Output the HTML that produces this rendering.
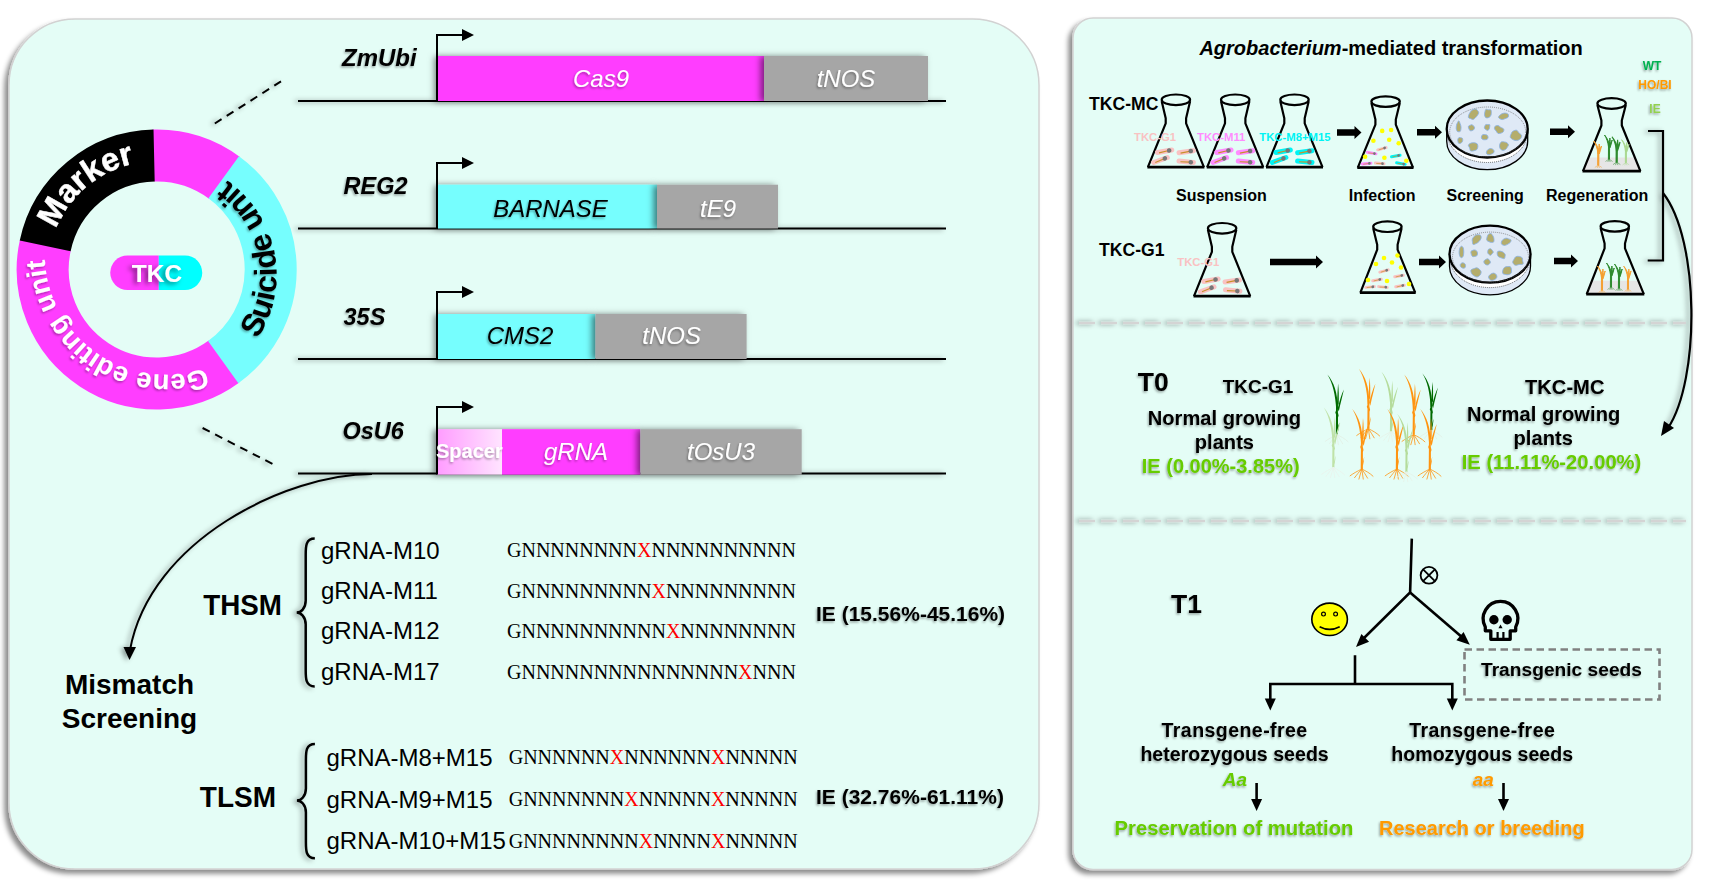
<!DOCTYPE html>
<html><head><meta charset="utf-8"><style>
html,body{margin:0;padding:0;background:#fff;}
body{width:1711px;height:889px;overflow:hidden;position:relative;font-family:'Liberation Sans', sans-serif;}
svg{position:absolute;left:0;top:0;}
text{font-family:'Liberation Sans', sans-serif;}
</style></head><body>
<svg width="1711" height="889" viewBox="0 0 1711 889">
<defs>
<filter id="psh" x="-5%" y="-5%" width="110%" height="110%"><feDropShadow dx="-4" dy="4" stdDeviation="2.5" flood-color="#000" flood-opacity="0.45"/></filter>
<filter id="ts" x="-20%" y="-30%" width="140%" height="160%"><feDropShadow dx="-1" dy="1.5" stdDeviation="1" flood-color="#000" flood-opacity="0.35"/></filter>
<filter id="bs" filterUnits="userSpaceOnUse" x="0" y="0" width="1711" height="889"><feDropShadow dx="-3" dy="1" stdDeviation="2.5" flood-color="#000" flood-opacity="0.4"/></filter>
<filter id="bxs" x="-15%" y="-30%" width="130%" height="160%"><feDropShadow dx="-3.5" dy="0.5" stdDeviation="3.2" flood-color="#000" flood-opacity="0.5"/></filter>
<filter id="lns" filterUnits="userSpaceOnUse" x="0" y="0" width="1711" height="889"><feDropShadow dx="-3" dy="0.5" stdDeviation="2.5" flood-color="#000" flood-opacity="0.4"/></filter>
<filter id="dsh" filterUnits="userSpaceOnUse" x="0" y="0" width="1711" height="889"><feDropShadow dx="-2.5" dy="0" stdDeviation="2.5" flood-color="#000" flood-opacity="0.5"/></filter>
<filter id="tks" x="-30%" y="-40%" width="160%" height="180%"><feDropShadow dx="-3" dy="2" stdDeviation="2.5" flood-color="#000" flood-opacity="0.55"/></filter>
<linearGradient id="spg" x1="0" x2="1" y1="0" y2="0"><stop offset="0" stop-color="#ff9cff"/><stop offset="1" stop-color="#ffe4ff"/></linearGradient>
</defs>

<rect x="9" y="19" width="1030" height="850" rx="66" ry="66" fill="#e4fdf6" stroke="#d2d2d2" stroke-width="1.5" filter="url(#psh)"/>
<rect x="1073" y="18" width="619" height="851.5" rx="20" ry="20" fill="#e4fdf6" stroke="#d2d2d2" stroke-width="1.5" filter="url(#psh)"/>
<path d="M224.03,361.49 A114,114 0 0 1 45.40,244.83" fill="none" stroke="#ff3dff" stroke-width="52"/>
<path d="M153.12,155.56 A114,114 0 0 1 224.51,177.86" fill="none" stroke="#ff3dff" stroke-width="52"/>
<path d="M45.19,245.80 A114,114 0 0 1 154.11,155.53" fill="none" stroke="#000" stroke-width="52"/>
<path d="M223.71,177.27 A114,114 0 0 1 223.22,362.08" fill="none" stroke="#76fefe" stroke-width="52"/>
<defs>
<path id="pMarker" d="M73.20,339.56 A109,109 0 0 1 240.20,199.44"/>
<path id="pSuicide" d="M183.95,387.76 A115,115 0 0 0 140.85,161.84"/>
<path id="pGene" d="M265.75,321.25 A120.8,120.8 0 0 1 65.45,186.15"/>
</defs>
<text font-size="32.5" font-weight="bold" fill="#fff" stroke="#fff" stroke-width="0.5" filter="url(#ts)"><textPath href="#pMarker" startOffset="50%" text-anchor="middle">Marker</textPath></text>
<text font-size="31.5" font-weight="bold" fill="#000" filter="url(#ts)"><textPath href="#pSuicide" startOffset="50%" text-anchor="middle">Suicide unit</textPath></text>
<text font-size="27.5" font-weight="bold" fill="#fff" filter="url(#ts)"><textPath href="#pGene" startOffset="50%" text-anchor="middle">Gene editing unit</textPath></text>
<g><path d="M127.5,255.5 H158.8 V290 H127.5 A17.25,17.25 0 0 1 127.5,255.5 Z" fill="#ff3dff"/><path d="M158.8,255.5 H185 A17.25,17.25 0 0 1 185,290 H158.8 Z" fill="#00ffff"/></g>
<text x="157" y="282" font-size="24.5" font-weight="bold" font-style="normal" fill="#fff" text-anchor="middle" filter="url(#tks)" >TKC</text>
<g filter="url(#bs)" stroke="#000" stroke-width="2" stroke-dasharray="8 6.1">
<line x1="214.8" y1="123.5" x2="281" y2="81.4"/>
<line x1="202.6" y1="428" x2="272.7" y2="464"/>
</g>
<line x1="298" y1="101" x2="946" y2="101" stroke="#000" stroke-width="2" filter="url(#lns)"/>
<rect x="438" y="56" width="326" height="45" fill="#ff3dff" filter="url(#bxs)"/>
<rect x="764" y="56" width="164" height="45" fill="#a6a6a6" filter="url(#bxs)"/>
<path d="M437,101 V35 H463" fill="none" stroke="#000" stroke-width="2"/>
<path d="M462,29 L474,35 L462,41 Z" fill="#000"/>
<text x="342" y="65.8" font-size="24" font-weight="bold" font-style="italic" fill="#000" text-anchor="start" filter="url(#ts)" >ZmUbi</text>
<text x="601" y="86.8" font-size="24" font-weight="normal" font-style="italic" fill="#fff" text-anchor="middle" filter="url(#ts)" >Cas9</text>
<text x="846" y="86.5" font-size="24" font-weight="normal" font-style="italic" fill="#fff" text-anchor="middle" filter="url(#ts)" >tNOS</text>
<line x1="298" y1="228.5" x2="946" y2="228.5" stroke="#000" stroke-width="2" filter="url(#lns)"/>
<rect x="438" y="184.7" width="219" height="43.80000000000001" fill="#76fefe" filter="url(#bxs)"/>
<rect x="657" y="184.7" width="121" height="43.80000000000001" fill="#a6a6a6" filter="url(#bxs)"/>
<path d="M437,228.5 V163 H463" fill="none" stroke="#000" stroke-width="2"/>
<path d="M462,157 L474,163 L462,169 Z" fill="#000"/>
<text x="343.5" y="193.7" font-size="23.5" font-weight="bold" font-style="italic" fill="#000" text-anchor="start" filter="url(#ts)" >REG2</text>
<text x="550.5" y="216.6" font-size="24" font-weight="normal" font-style="italic" fill="#000" text-anchor="middle" filter="url(#ts)" >BARNASE</text>
<text x="718" y="216.6" font-size="24" font-weight="normal" font-style="italic" fill="#fff" text-anchor="middle" filter="url(#ts)" >tE9</text>
<line x1="298" y1="359" x2="946" y2="359" stroke="#000" stroke-width="2" filter="url(#lns)"/>
<rect x="438" y="314" width="157.5" height="45" fill="#76fefe" filter="url(#bxs)"/>
<rect x="595.5" y="314" width="151.10000000000002" height="45" fill="#a6a6a6" filter="url(#bxs)"/>
<path d="M437,359 V292 H463" fill="none" stroke="#000" stroke-width="2"/>
<path d="M462,286 L474,292 L462,298 Z" fill="#000"/>
<text x="343.5" y="324.7" font-size="23.5" font-weight="bold" font-style="italic" fill="#000" text-anchor="start" filter="url(#ts)" >35S</text>
<text x="520" y="344" font-size="24" font-weight="normal" font-style="italic" fill="#000" text-anchor="middle" filter="url(#ts)" >CMS2</text>
<text x="671.6" y="344" font-size="24" font-weight="normal" font-style="italic" fill="#fff" text-anchor="middle" filter="url(#ts)" >tNOS</text>
<line x1="298" y1="473.4" x2="946" y2="473.4" stroke="#000" stroke-width="2" filter="url(#lns)"/>
<g filter="url(#bxs)">
<rect x="437" y="429.2" width="65" height="45.39999999999999" fill="url(#spg)"/>
<rect x="502" y="429.2" width="138.39999999999998" height="45.39999999999999" fill="#ff3dff"/>
</g>
<rect x="640.4" y="429.2" width="161.30000000000007" height="45.39999999999999" fill="#a6a6a6" filter="url(#bxs)"/>
<path d="M437,474.59999999999997 V407 H463" fill="none" stroke="#000" stroke-width="2"/>
<path d="M462,401 L474,407 L462,413 Z" fill="#000"/>
<text x="342.5" y="439" font-size="23.5" font-weight="bold" font-style="italic" fill="#000" text-anchor="start" filter="url(#ts)" >OsU6</text>
<text x="469.4" y="458" font-size="20" font-weight="bold" font-style="normal" fill="#fff" text-anchor="middle" filter="url(#ts)" >Spacer</text>
<text x="576" y="460" font-size="24" font-weight="normal" font-style="italic" fill="#fff" text-anchor="middle" filter="url(#ts)" >gRNA</text>
<text x="721" y="460" font-size="24" font-weight="normal" font-style="italic" fill="#fff" text-anchor="middle" filter="url(#ts)" >tOsU3</text>
<g filter="url(#bs)">
<path d="M372,474 C287,474 150,540 130,650" fill="none" stroke="#000" stroke-width="2"/>
<path d="M123.5,647 L129.5,660 L136,647 Z" fill="#000"/>
</g>
<text x="129.5" y="693.9" font-size="28" font-weight="bold" font-style="normal" fill="#000" text-anchor="middle" >Mismatch</text>
<text x="129.5" y="727.8" font-size="28" font-weight="bold" font-style="normal" fill="#000" text-anchor="middle" >Screening</text>
<g transform="translate(203.3,614.7) scale(0.958,1)"><text x="0" y="0" font-size="29" font-weight="bold" font-style="normal" fill="#000" text-anchor="start" >THSM</text></g>
<g transform="translate(199.8,806.5) scale(0.965,1)"><text x="0" y="0" font-size="29" font-weight="bold" font-style="normal" fill="#000" text-anchor="start" >TLSM</text></g>
<path d="M314.7,538.6 C305.7,538.6 305.7,546.6 305.7,554.6 L305.7,600.6 C305.7,608.6 300.7,612.6 296.7,612.6 C300.7,612.6 305.7,616.6 305.7,624.6 L305.7,670.4 C305.7,678.4 305.7,686.4 314.7,686.4" fill="none" stroke="#000" stroke-width="2.5" filter="url(#bs)"/>
<path d="M314.9,743.9 C305.9,743.9 305.9,751.9 305.9,759.9 L305.9,788.5 C305.9,796.5 300.9,800.5 296.9,800.5 C300.9,800.5 305.9,804.5 305.9,812.5 L305.9,842.2 C305.9,850.2 305.9,858.2 314.9,858.2" fill="none" stroke="#000" stroke-width="2.5" filter="url(#bs)"/>
<text x="321" y="558.7" font-size="24" font-weight="normal" font-style="normal" fill="#000" text-anchor="start" >gRNA-M10</text>
<text x="321" y="599.2" font-size="24" font-weight="normal" font-style="normal" fill="#000" text-anchor="start" >gRNA-M11</text>
<text x="321" y="639.4" font-size="24" font-weight="normal" font-style="normal" fill="#000" text-anchor="start" >gRNA-M12</text>
<text x="321" y="679.7" font-size="24" font-weight="normal" font-style="normal" fill="#000" text-anchor="start" >gRNA-M17</text>
<text x="326.5" y="765.8" font-size="24" font-weight="normal" font-style="normal" fill="#000" text-anchor="start" >gRNA-M8+M15</text>
<text x="326.5" y="808" font-size="24" font-weight="normal" font-style="normal" fill="#000" text-anchor="start" >gRNA-M9+M15</text>
<text x="326.5" y="848.8" font-size="24" font-weight="normal" font-style="normal" fill="#000" text-anchor="start" >gRNA-M10+M15</text>
<text x="507" y="556.6" font-size="20" fill="#000" style="font-family:'Liberation Serif', serif">GNNNNNNNN<tspan fill="#ff0000">X</tspan>NNNNNNNNNN</text>
<text x="507" y="597.5" font-size="20" fill="#000" style="font-family:'Liberation Serif', serif">GNNNNNNNNN<tspan fill="#ff0000">X</tspan>NNNNNNNNN</text>
<text x="507" y="638" font-size="20" fill="#000" style="font-family:'Liberation Serif', serif">GNNNNNNNNNN<tspan fill="#ff0000">X</tspan>NNNNNNNN</text>
<text x="507" y="678.8" font-size="20" fill="#000" style="font-family:'Liberation Serif', serif">GNNNNNNNNNNNNNNN<tspan fill="#ff0000">X</tspan>NNN</text>
<text x="508.7" y="764.3" font-size="20" fill="#000" style="font-family:'Liberation Serif', serif">GNNNNNN<tspan fill="#ff0000">X</tspan>NNNNNN<tspan fill="#ff0000">X</tspan>NNNNN</text>
<text x="508.7" y="806.4" font-size="20" fill="#000" style="font-family:'Liberation Serif', serif">GNNNNNNN<tspan fill="#ff0000">X</tspan>NNNNN<tspan fill="#ff0000">X</tspan>NNNNN</text>
<text x="508.7" y="847.5" font-size="20" fill="#000" style="font-family:'Liberation Serif', serif">GNNNNNNNN<tspan fill="#ff0000">X</tspan>NNNN<tspan fill="#ff0000">X</tspan>NNNNN</text>
<text x="816" y="620.9" font-size="21" font-weight="bold" font-style="normal" fill="#000" text-anchor="start" filter="url(#ts)" >IE (15.56%-45.16%)</text>
<text x="816" y="804.4" font-size="21" font-weight="bold" font-style="normal" fill="#000" text-anchor="start" filter="url(#ts)" >IE (32.76%-61.11%)</text>
<defs>
<g id="plant">
<path d="M-1.1,0 L-0.9,-20 L-1.6,-22 L-0.9,-24 L-0.8,-33 L1.1,-33 L1.0,-22 L1.7,-19 L1.1,-17 L1.1,0 Z" stroke="none"/>
<path d="M-0.6,-24 C-1.5,-40 -4,-51 -9.5,-60 C-2.8,-52 0.6,-42 1,-26 Z" stroke="none"/>
<path d="M0.1,-30 C0.4,-38 0.8,-45 1.2,-51 C1.9,-45 2.0,-38 1.8,-30 Z" stroke="none"/>
<path d="M0.8,-26 C2.5,-33 4.5,-40 7,-45 C5.6,-39 3.8,-32 1.9,-23 Z" stroke="none"/>
<path d="M0.6,-5 C1.2,-8 1.8,-10 2.4,-12 C2.2,-9 1.8,-6 1.1,-3 Z" stroke="none"/>
<path d="M0,0 C-4,2 -8,4 -12,7 M0,0 C-3,3 -5,6 -7.5,9 M0,0 L-3,10.5 M0,0 L1.5,10.5 M0,0 C2,3 4,6 6,9.5 M0,0 C4,2 8,4 11.5,7.5" fill="none" stroke-width="0.8"/>
</g>
<g id="sprout">
<path d="M-0.6,0 L-0.5,-15 L0.6,-15 L0.5,0 Z"/>
<path d="M-0.3,-11 C-1,-17 -2.5,-21 -4.5,-24 C-1.8,-21 0.3,-17 0.6,-12 Z"/>
<path d="M0.2,-13 C0.4,-16 0.6,-19 0.9,-21 C1.3,-19 1.2,-16 0.9,-13 Z"/>
<path d="M0.2,-12 C1.2,-15 2,-17 3.2,-19 C2.6,-16 1.8,-13.5 0.9,-11 Z"/>
<path d="M0,0 L-3.5,2.5 M0,0 L-1.2,3 M0,0 L1.2,3 M0,0 L3.5,2.5" fill="none" stroke-width="0.5"/>
</g>
</defs>
<text x="1199.4" y="55.2" font-size="20" font-weight="bold" font-style="normal" fill="#000" text-anchor="start" ><tspan font-style="italic">Agrobacterium</tspan>-mediated transformation</text>
<text x="1652" y="69.6" font-size="12" font-weight="bold" font-style="normal" fill="#00b050" text-anchor="middle" filter="url(#ts)" >WT</text>
<text x="1655" y="88.7" font-size="12" font-weight="bold" font-style="normal" fill="#ff9900" text-anchor="middle" filter="url(#ts)" >HO/BI</text>
<text x="1655" y="112.6" font-size="12" font-weight="bold" font-style="normal" fill="#92d050" text-anchor="middle" filter="url(#ts)" >IE</text>
<text x="1089" y="109.6" font-size="17.6" font-weight="bold" font-style="normal" fill="#000" text-anchor="start" >TKC-MC</text>
<text x="1099" y="255.6" font-size="17.6" font-weight="bold" font-style="normal" fill="#000" text-anchor="start" >TKC-G1</text>
<g fill="none" stroke="#000" stroke-linejoin="round">
<path d="M1161.7,101.3 L1165.7,118.3 L1165.7,123.3 L1147.9,167.1" stroke-width="2.2"/>
<path d="M1190.1000000000001,101.3 L1186.1000000000001,118.3 L1186.1000000000001,123.3 L1203.9,167.1" stroke-width="2.2"/>
<line x1="1147.4" y1="167.1" x2="1204.4" y2="167.1" stroke-width="2.8"/>
<ellipse cx="1175.9" cy="99.8" rx="14.2" ry="5.3" stroke-width="2.2"/>
</g>
<g transform="translate(1164.6000000000001,151.3) rotate(-10)">
<line x1="-7.25" y1="0" x2="7.25" y2="0" stroke="#f9c2c2" stroke-width="5.0" stroke-linecap="round"/>
<line x1="-5.75" y1="0.6" x2="3.25" y2="0.1" stroke="#c8902a" stroke-width="1.1"/>
<circle cx="4.65" cy="0" r="2.3" fill="#777"/>
</g>
<g transform="translate(1186.2,151.7) rotate(-8)">
<line x1="-7.25" y1="0" x2="7.25" y2="0" stroke="#f9c2c2" stroke-width="5.0" stroke-linecap="round"/>
<line x1="-5.75" y1="0.6" x2="3.25" y2="0.1" stroke="#c8902a" stroke-width="1.1"/>
<circle cx="4.65" cy="0" r="2.3" fill="#777"/>
</g>
<g transform="translate(1160.5,160) rotate(-20)">
<line x1="-7.25" y1="0" x2="7.25" y2="0" stroke="#f9c2c2" stroke-width="5.0" stroke-linecap="round"/>
<line x1="-5.75" y1="0.6" x2="3.25" y2="0.1" stroke="#c8902a" stroke-width="1.1"/>
<circle cx="4.65" cy="0" r="2.3" fill="#777"/>
</g>
<g transform="translate(1186.2,161.7) rotate(6)">
<line x1="-7.25" y1="0" x2="7.25" y2="0" stroke="#f9c2c2" stroke-width="5.0" stroke-linecap="round"/>
<line x1="-5.75" y1="0.6" x2="3.25" y2="0.1" stroke="#c8902a" stroke-width="1.1"/>
<circle cx="4.65" cy="0" r="2.3" fill="#777"/>
</g>
<text x="1134" y="140.5" font-size="11.3" font-weight="bold" font-style="normal" fill="#f9c2c2" text-anchor="start" >TKC-G1</text>
<g fill="none" stroke="#000" stroke-linejoin="round">
<path d="M1221.0,101.3 L1225.0,118.3 L1225.0,123.3 L1207.2,167.1" stroke-width="2.2"/>
<path d="M1249.4,101.3 L1245.4,118.3 L1245.4,123.3 L1263.2,167.1" stroke-width="2.2"/>
<line x1="1206.7" y1="167.1" x2="1263.7" y2="167.1" stroke-width="2.8"/>
<ellipse cx="1235.2" cy="99.8" rx="14.2" ry="5.3" stroke-width="2.2"/>
</g>
<g transform="translate(1223.9,151.3) rotate(-10)">
<line x1="-7.25" y1="0" x2="7.25" y2="0" stroke="#ff8cff" stroke-width="5.0" stroke-linecap="round"/>
<line x1="-5.75" y1="0.6" x2="3.25" y2="0.1" stroke="#c8902a" stroke-width="1.1"/>
<circle cx="4.65" cy="0" r="2.3" fill="#777"/>
</g>
<g transform="translate(1245.5,151.7) rotate(-8)">
<line x1="-7.25" y1="0" x2="7.25" y2="0" stroke="#ff8cff" stroke-width="5.0" stroke-linecap="round"/>
<line x1="-5.75" y1="0.6" x2="3.25" y2="0.1" stroke="#c8902a" stroke-width="1.1"/>
<circle cx="4.65" cy="0" r="2.3" fill="#777"/>
</g>
<g transform="translate(1219.8,160) rotate(-20)">
<line x1="-7.25" y1="0" x2="7.25" y2="0" stroke="#ff8cff" stroke-width="5.0" stroke-linecap="round"/>
<line x1="-5.75" y1="0.6" x2="3.25" y2="0.1" stroke="#c8902a" stroke-width="1.1"/>
<circle cx="4.65" cy="0" r="2.3" fill="#777"/>
</g>
<g transform="translate(1245.5,161.7) rotate(6)">
<line x1="-7.25" y1="0" x2="7.25" y2="0" stroke="#ff8cff" stroke-width="5.0" stroke-linecap="round"/>
<line x1="-5.75" y1="0.6" x2="3.25" y2="0.1" stroke="#c8902a" stroke-width="1.1"/>
<circle cx="4.65" cy="0" r="2.3" fill="#777"/>
</g>
<text x="1197" y="140.5" font-size="11.3" font-weight="bold" font-style="normal" fill="#ff8cff" text-anchor="start" >TKC-M11</text>
<g fill="none" stroke="#000" stroke-linejoin="round">
<path d="M1280.3,101.3 L1284.3,118.3 L1284.3,123.3 L1266.5,167.1" stroke-width="2.2"/>
<path d="M1308.7,101.3 L1304.7,118.3 L1304.7,123.3 L1322.5,167.1" stroke-width="2.2"/>
<line x1="1266.0" y1="167.1" x2="1323.0" y2="167.1" stroke-width="2.8"/>
<ellipse cx="1294.5" cy="99.8" rx="14.2" ry="5.3" stroke-width="2.2"/>
</g>
<g transform="translate(1283.2,151.3) rotate(-10)">
<line x1="-7.25" y1="0" x2="7.25" y2="0" stroke="#00f4f4" stroke-width="5.0" stroke-linecap="round"/>
<line x1="-5.75" y1="0.6" x2="3.25" y2="0.1" stroke="#c8902a" stroke-width="1.1"/>
<circle cx="4.65" cy="0" r="2.3" fill="#777"/>
</g>
<g transform="translate(1304.8,151.7) rotate(-8)">
<line x1="-7.25" y1="0" x2="7.25" y2="0" stroke="#00f4f4" stroke-width="5.0" stroke-linecap="round"/>
<line x1="-5.75" y1="0.6" x2="3.25" y2="0.1" stroke="#c8902a" stroke-width="1.1"/>
<circle cx="4.65" cy="0" r="2.3" fill="#777"/>
</g>
<g transform="translate(1279.1,160) rotate(-20)">
<line x1="-7.25" y1="0" x2="7.25" y2="0" stroke="#00f4f4" stroke-width="5.0" stroke-linecap="round"/>
<line x1="-5.75" y1="0.6" x2="3.25" y2="0.1" stroke="#c8902a" stroke-width="1.1"/>
<circle cx="4.65" cy="0" r="2.3" fill="#777"/>
</g>
<g transform="translate(1304.8,161.7) rotate(6)">
<line x1="-7.25" y1="0" x2="7.25" y2="0" stroke="#00f4f4" stroke-width="5.0" stroke-linecap="round"/>
<line x1="-5.75" y1="0.6" x2="3.25" y2="0.1" stroke="#c8902a" stroke-width="1.1"/>
<circle cx="4.65" cy="0" r="2.3" fill="#777"/>
</g>
<text x="1259.3" y="140.5" font-size="11.3" font-weight="bold" font-style="normal" fill="#00f4f4" text-anchor="start" >TKC-M8+M15</text>
<path d="M1337,129.35 H1354.5 V126.1 L1361.5,132.6 L1354.5,139.1 V135.85 H1337 Z" fill="#000"/>
<g fill="none" stroke="#000" stroke-linejoin="round">
<path d="M1371.3999999999999,103.1 L1375.3999999999999,119.6 L1375.3999999999999,124.6 L1357.8,167.7" stroke-width="2.2"/>
<path d="M1399.8,103.1 L1395.8,119.6 L1395.8,124.6 L1413.0,167.7" stroke-width="2.2"/>
<line x1="1357.3" y1="167.7" x2="1413.5" y2="167.7" stroke-width="2.8"/>
<ellipse cx="1385.6" cy="101.6" rx="14.2" ry="5.3" stroke-width="2.2"/>
</g>
<circle cx="1382.2" cy="130.9" r="2.3" fill="#ffff00"/>
<circle cx="1391.1" cy="130" r="2.3" fill="#ffff00"/>
<circle cx="1373.4" cy="140.7" r="2.3" fill="#ffff00"/>
<circle cx="1389.2" cy="139.7" r="2.3" fill="#ffff00"/>
<circle cx="1398.7" cy="143.3" r="2.3" fill="#ffff00"/>
<circle cx="1365.1" cy="156.8" r="2.3" fill="#ffff00"/>
<circle cx="1384.4" cy="157.8" r="2.3" fill="#ffff00"/>
<circle cx="1406.3" cy="160.7" r="2.3" fill="#ffff00"/>
<g transform="translate(1381.9,148.7) rotate(-15)">
<line x1="-4.35" y1="0" x2="4.35" y2="0" stroke="#f9c2c2" stroke-width="3.0" stroke-linecap="round"/>
<line x1="-3.4499999999999997" y1="0.36" x2="1.9499999999999997" y2="0.06" stroke="#c8902a" stroke-width="0.66"/>
<circle cx="2.7899999999999996" cy="0" r="1.38" fill="#777"/>
</g>
<g transform="translate(1371.7,153.1) rotate(10)">
<line x1="-4.35" y1="0" x2="4.35" y2="0" stroke="#ff8cff" stroke-width="3.0" stroke-linecap="round"/>
<line x1="-3.4499999999999997" y1="0.36" x2="1.9499999999999997" y2="0.06" stroke="#c8902a" stroke-width="0.66"/>
<circle cx="2.7899999999999996" cy="0" r="1.38" fill="#777"/>
</g>
<g transform="translate(1395.8,156) rotate(-10)">
<line x1="-4.35" y1="0" x2="4.35" y2="0" stroke="#00f4f4" stroke-width="3.0" stroke-linecap="round"/>
<line x1="-3.4499999999999997" y1="0.36" x2="1.9499999999999997" y2="0.06" stroke="#c8902a" stroke-width="0.66"/>
<circle cx="2.7899999999999996" cy="0" r="1.38" fill="#777"/>
</g>
<g transform="translate(1366.6,163.6) rotate(-5)">
<line x1="-4.35" y1="0" x2="4.35" y2="0" stroke="#ff8cff" stroke-width="3.0" stroke-linecap="round"/>
<line x1="-3.4499999999999997" y1="0.36" x2="1.9499999999999997" y2="0.06" stroke="#c8902a" stroke-width="0.66"/>
<circle cx="2.7899999999999996" cy="0" r="1.38" fill="#777"/>
</g>
<g transform="translate(1379.7,163.4) rotate(5)">
<line x1="-4.35" y1="0" x2="4.35" y2="0" stroke="#f9c2c2" stroke-width="3.0" stroke-linecap="round"/>
<line x1="-3.4499999999999997" y1="0.36" x2="1.9499999999999997" y2="0.06" stroke="#c8902a" stroke-width="0.66"/>
<circle cx="2.7899999999999996" cy="0" r="1.38" fill="#777"/>
</g>
<g transform="translate(1400.9,163.6) rotate(10)">
<line x1="-4.35" y1="0" x2="4.35" y2="0" stroke="#00f4f4" stroke-width="3.0" stroke-linecap="round"/>
<line x1="-3.4499999999999997" y1="0.36" x2="1.9499999999999997" y2="0.06" stroke="#c8902a" stroke-width="0.66"/>
<circle cx="2.7899999999999996" cy="0" r="1.38" fill="#777"/>
</g>
<path d="M1417,129.05 H1435 V125.80000000000001 L1442,132.3 L1435,138.8 V135.55 H1417 Z" fill="#000"/>
<g>
<path d="M1446.7,129 L1446.7,141.2 A40.5,28.5 0 0 0 1527.7,141.2 L1527.7,129 Z" fill="#dfe9f6" stroke="#000" stroke-width="1.3"/>
<ellipse cx="1487.2" cy="134" rx="39.7" ry="28.5" fill="#fff" stroke="#444" stroke-width="0.8" stroke-dasharray="1 1"/>
<ellipse cx="1487.2" cy="129" rx="40.5" ry="28.5" fill="#dfe9f6" stroke="#000" stroke-width="2.3"/>
<ellipse cx="1487.7" cy="132" rx="38.0" ry="25.0" fill="none" stroke="#666" stroke-width="0.7" stroke-dasharray="1 1"/>
<path d="M1476.47,116.62 C1475.56,117.68 1474.25,119.05 1473.31,119.39 C1472.36,119.73 1471.58,118.98 1470.77,118.65 C1469.96,118.33 1468.67,118.29 1468.43,117.45 C1468.19,116.61 1468.69,114.87 1469.33,113.63 C1469.97,112.39 1471.18,110.78 1472.25,110.02 C1473.31,109.26 1474.81,108.97 1475.70,109.06 C1476.59,109.15 1477.07,109.91 1477.57,110.57 C1478.07,111.22 1478.90,112.00 1478.71,113.01 C1478.53,114.02 1477.37,115.56 1476.47,116.62 Z" fill="#b4ad6c" stroke="#8fb3e3" stroke-width="0.9"/>
<path d="M1491.30,113.40 C1491.21,114.45 1490.91,115.59 1490.40,116.30 C1489.90,117.01 1489.06,117.45 1488.29,117.68 C1487.52,117.91 1486.40,118.13 1485.77,117.66 C1485.14,117.20 1484.67,115.81 1484.52,114.88 C1484.37,113.95 1484.66,113.01 1484.88,112.09 C1485.11,111.16 1485.31,109.71 1485.86,109.33 C1486.41,108.94 1487.36,109.68 1488.20,109.79 C1489.04,109.89 1490.38,109.37 1490.89,109.98 C1491.41,110.58 1491.38,112.35 1491.30,113.40 Z" fill="#b4ad6c" stroke="#8fb3e3" stroke-width="0.9"/>
<path d="M1508.47,114.75 C1508.75,115.45 1508.59,116.68 1507.99,117.35 C1507.39,118.01 1505.84,118.36 1504.88,118.73 C1503.93,119.10 1503.08,119.55 1502.27,119.57 C1501.46,119.58 1500.65,119.25 1500.03,118.84 C1499.40,118.44 1498.47,117.81 1498.52,117.14 C1498.56,116.48 1499.53,115.50 1500.30,114.87 C1501.06,114.24 1502.10,113.64 1503.11,113.36 C1504.11,113.08 1505.45,112.96 1506.34,113.19 C1507.24,113.42 1508.20,114.06 1508.47,114.75 Z" fill="#b4ad6c" stroke="#8fb3e3" stroke-width="0.9"/>
<path d="M1461.02,126.90 C1461.09,128.16 1460.84,130.27 1460.46,131.08 C1460.08,131.89 1459.28,131.71 1458.75,131.76 C1458.23,131.82 1457.75,131.89 1457.33,131.40 C1456.90,130.91 1456.37,129.84 1456.23,128.81 C1456.09,127.78 1456.30,126.23 1456.50,125.23 C1456.70,124.23 1457.03,123.54 1457.42,122.81 C1457.81,122.07 1458.40,120.71 1458.84,120.83 C1459.28,120.95 1459.70,122.51 1460.07,123.52 C1460.43,124.53 1460.96,125.64 1461.02,126.90 Z" fill="#b4ad6c" stroke="#8fb3e3" stroke-width="0.9"/>
<path d="M1474.64,127.80 C1474.66,128.47 1474.01,129.38 1473.56,129.86 C1473.10,130.34 1472.50,130.52 1471.92,130.66 C1471.34,130.81 1470.58,131.02 1470.09,130.72 C1469.59,130.43 1469.27,129.62 1468.97,128.90 C1468.68,128.18 1468.11,127.04 1468.32,126.42 C1468.54,125.80 1469.63,125.49 1470.24,125.19 C1470.84,124.89 1471.43,124.54 1471.97,124.65 C1472.50,124.76 1473.00,125.32 1473.45,125.85 C1473.89,126.37 1474.62,127.13 1474.64,127.80 Z" fill="#b4ad6c" stroke="#8fb3e3" stroke-width="0.9"/>
<path d="M1489.65,127.00 C1489.57,127.67 1489.56,128.20 1489.26,128.78 C1488.95,129.36 1488.37,130.35 1487.79,130.48 C1487.21,130.61 1486.34,129.97 1485.77,129.57 C1485.19,129.17 1484.50,128.64 1484.35,128.07 C1484.20,127.50 1484.63,126.72 1484.87,126.12 C1485.11,125.53 1485.34,124.73 1485.79,124.48 C1486.25,124.23 1486.95,124.56 1487.61,124.61 C1488.27,124.67 1489.41,124.39 1489.75,124.79 C1490.09,125.19 1489.73,126.33 1489.65,127.00 Z" fill="#b4ad6c" stroke="#8fb3e3" stroke-width="0.9"/>
<path d="M1503.39,131.69 C1502.97,132.36 1502.04,132.75 1501.16,133.05 C1500.27,133.35 1498.94,133.83 1498.10,133.49 C1497.27,133.15 1496.76,131.78 1496.15,131.00 C1495.55,130.22 1494.66,129.60 1494.47,128.82 C1494.29,128.05 1494.46,126.91 1495.04,126.35 C1495.61,125.79 1497.00,125.32 1497.95,125.48 C1498.90,125.64 1499.76,126.73 1500.71,127.32 C1501.66,127.91 1503.22,128.30 1503.67,129.03 C1504.12,129.76 1503.81,131.02 1503.39,131.69 Z" fill="#b4ad6c" stroke="#8fb3e3" stroke-width="0.9"/>
<path d="M1521.64,135.50 C1521.84,136.48 1521.08,138.04 1520.24,138.88 C1519.41,139.73 1517.86,140.45 1516.63,140.57 C1515.40,140.69 1513.94,140.15 1512.88,139.58 C1511.83,139.02 1510.59,138.10 1510.29,137.18 C1509.99,136.26 1510.66,135.05 1511.08,134.07 C1511.50,133.09 1511.87,131.92 1512.80,131.29 C1513.73,130.65 1515.62,129.99 1516.66,130.27 C1517.70,130.55 1518.22,132.11 1519.05,132.99 C1519.88,133.86 1521.45,134.52 1521.64,135.50 Z" fill="#b4ad6c" stroke="#8fb3e3" stroke-width="0.9"/>
<path d="M1488.09,137.10 C1488.13,137.82 1487.68,138.89 1487.16,139.33 C1486.64,139.77 1485.65,139.70 1484.97,139.74 C1484.28,139.78 1483.65,139.83 1483.07,139.58 C1482.49,139.32 1481.72,138.79 1481.48,138.20 C1481.23,137.61 1481.36,136.66 1481.61,136.05 C1481.87,135.43 1482.45,134.75 1483.01,134.52 C1483.56,134.28 1484.28,134.55 1484.93,134.64 C1485.59,134.73 1486.43,134.63 1486.95,135.04 C1487.48,135.45 1488.06,136.38 1488.09,137.10 Z" fill="#b4ad6c" stroke="#8fb3e3" stroke-width="0.9"/>
<path d="M1462.69,140.40 C1462.63,141.03 1462.39,141.65 1462.05,142.12 C1461.71,142.59 1461.21,143.02 1460.65,143.23 C1460.08,143.43 1459.12,143.67 1458.66,143.36 C1458.20,143.04 1458.04,141.98 1457.90,141.33 C1457.76,140.68 1457.66,140.04 1457.81,139.43 C1457.96,138.83 1458.33,137.99 1458.80,137.70 C1459.27,137.41 1460.03,137.57 1460.63,137.68 C1461.24,137.78 1462.08,137.88 1462.42,138.33 C1462.76,138.78 1462.75,139.77 1462.69,140.40 Z" fill="#b4ad6c" stroke="#8fb3e3" stroke-width="0.9"/>
<path d="M1477.85,146.70 C1477.81,147.65 1477.49,148.78 1476.86,149.45 C1476.23,150.12 1475.10,150.47 1474.07,150.71 C1473.04,150.95 1471.42,151.35 1470.67,150.89 C1469.93,150.42 1469.99,148.91 1469.61,147.93 C1469.23,146.96 1468.16,145.87 1468.40,145.06 C1468.63,144.25 1470.07,143.45 1471.02,143.06 C1471.96,142.68 1473.04,142.64 1474.06,142.76 C1475.07,142.87 1476.49,143.09 1477.12,143.75 C1477.76,144.41 1477.90,145.75 1477.85,146.70 Z" fill="#b4ad6c" stroke="#8fb3e3" stroke-width="0.9"/>
<path d="M1507.15,147.44 C1506.65,148.22 1506.24,149.05 1505.47,149.54 C1504.71,150.02 1503.46,150.53 1502.57,150.34 C1501.68,150.16 1500.61,149.31 1500.11,148.44 C1499.61,147.57 1499.39,146.19 1499.59,145.12 C1499.78,144.04 1500.47,142.49 1501.28,141.97 C1502.09,141.44 1503.52,141.86 1504.45,141.97 C1505.38,142.09 1506.17,142.19 1506.85,142.67 C1507.52,143.16 1508.43,144.07 1508.48,144.87 C1508.53,145.66 1507.65,146.67 1507.15,147.44 Z" fill="#b4ad6c" stroke="#8fb3e3" stroke-width="0.9"/>
<path d="M1494.04,150.72 C1494.20,151.30 1494.14,152.11 1493.74,152.65 C1493.34,153.18 1492.42,153.59 1491.64,153.94 C1490.85,154.29 1489.86,154.78 1489.03,154.76 C1488.21,154.73 1487.12,154.30 1486.70,153.80 C1486.27,153.29 1486.30,152.40 1486.48,151.73 C1486.66,151.07 1487.12,150.32 1487.76,149.79 C1488.41,149.26 1489.50,148.62 1490.34,148.52 C1491.18,148.43 1492.20,148.85 1492.81,149.22 C1493.43,149.58 1493.89,150.15 1494.04,150.72 Z" fill="#b4ad6c" stroke="#8fb3e3" stroke-width="0.9"/>
</g>
<path d="M1550,128.45 H1568 V125.19999999999999 L1575,131.7 L1568,138.2 V134.95 H1550 Z" fill="#000"/>
<g fill="none" stroke="#000" stroke-linejoin="round">
<path d="M1588.4,157.6 L1634.9,157.6 L1640.3999999999999,171.1 L1583.0,171.1 Z" fill="#e6e6e6" stroke="none"/>
<path d="M1597.3999999999999,105.0 L1601.3999999999999,120.5 L1601.3999999999999,125.5 L1583.0,171.1" stroke-width="2.2"/>
<path d="M1625.8,105.0 L1621.8,120.5 L1621.8,125.5 L1640.3999999999999,171.1" stroke-width="2.2"/>
<line x1="1582.5" y1="171.1" x2="1640.8999999999999" y2="171.1" stroke-width="2.8"/>
<ellipse cx="1611.6" cy="103.5" rx="14.2" ry="5.3" stroke-width="2.2"/>
</g>
<use href="#sprout" transform="translate(1598.3,165) scale(1)" fill="#f5a030" stroke="#f5a030"/>
<use href="#sprout" transform="translate(1609,159) scale(1)" fill="#2e8b2e" stroke="#2e8b2e"/>
<use href="#sprout" transform="translate(1616.7,162) scale(1.05)" fill="#2e8b2e" stroke="#2e8b2e"/>
<use href="#sprout" transform="translate(1625.9,162.5) scale(0.95)" fill="#a9d88e" stroke="#a9d88e"/>
<text x="1221.4" y="200.8" font-size="16" font-weight="bold" font-style="normal" fill="#000" text-anchor="middle" >Suspension</text>
<text x="1382.1" y="200.6" font-size="16" font-weight="bold" font-style="normal" fill="#000" text-anchor="middle" >Infection</text>
<text x="1485.2" y="200.6" font-size="16" font-weight="bold" font-style="normal" fill="#000" text-anchor="middle" >Screening</text>
<text x="1597.2" y="201" font-size="16" font-weight="bold" font-style="normal" fill="#000" text-anchor="middle" >Regeneration</text>
<g fill="none" stroke="#000" stroke-linejoin="round">
<path d="M1207.8999999999999,229.8 L1211.8999999999999,246.8 L1211.8999999999999,251.8 L1194.0,296.20000000000005" stroke-width="2.2"/>
<path d="M1236.3,229.8 L1232.3,246.8 L1232.3,251.8 L1250.1999999999998,296.20000000000005" stroke-width="2.2"/>
<line x1="1193.5" y1="296.20000000000005" x2="1250.6999999999998" y2="296.20000000000005" stroke-width="2.8"/>
<ellipse cx="1222.1" cy="228.3" rx="14.2" ry="5.3" stroke-width="2.2"/>
</g>
<g transform="translate(1211.0,280.3) rotate(-10)">
<line x1="-7.25" y1="0" x2="7.25" y2="0" stroke="#f9c2c2" stroke-width="5.0" stroke-linecap="round"/>
<line x1="-5.75" y1="0.6" x2="3.25" y2="0.1" stroke="#c8902a" stroke-width="1.1"/>
<circle cx="4.65" cy="0" r="2.3" fill="#777"/>
</g>
<g transform="translate(1232.1999999999998,281) rotate(-8)">
<line x1="-7.25" y1="0" x2="7.25" y2="0" stroke="#f9c2c2" stroke-width="5.0" stroke-linecap="round"/>
<line x1="-5.75" y1="0.6" x2="3.25" y2="0.1" stroke="#c8902a" stroke-width="1.1"/>
<circle cx="4.65" cy="0" r="2.3" fill="#777"/>
</g>
<g transform="translate(1207.1999999999998,289.3) rotate(-20)">
<line x1="-7.25" y1="0" x2="7.25" y2="0" stroke="#f9c2c2" stroke-width="5.0" stroke-linecap="round"/>
<line x1="-5.75" y1="0.6" x2="3.25" y2="0.1" stroke="#c8902a" stroke-width="1.1"/>
<circle cx="4.65" cy="0" r="2.3" fill="#777"/>
</g>
<g transform="translate(1232.6999999999998,290.6) rotate(6)">
<line x1="-7.25" y1="0" x2="7.25" y2="0" stroke="#f9c2c2" stroke-width="5.0" stroke-linecap="round"/>
<line x1="-5.75" y1="0.6" x2="3.25" y2="0.1" stroke="#c8902a" stroke-width="1.1"/>
<circle cx="4.65" cy="0" r="2.3" fill="#777"/>
</g>
<text x="1177.3" y="265.5" font-size="11.3" font-weight="bold" font-style="normal" fill="#f9c2c2" text-anchor="start" >TKC-G1</text>
<path d="M1270,258.75 H1316 V255.5 L1323,262 L1316,268.5 V265.25 H1270 Z" fill="#000"/>
<g fill="none" stroke="#000" stroke-linejoin="round">
<path d="M1373.2,228.2 L1377.2,244.7 L1377.2,249.7 L1360.4,292.7" stroke-width="2.2"/>
<path d="M1401.6000000000001,228.2 L1397.6000000000001,244.7 L1397.6000000000001,249.7 L1415.2,292.7" stroke-width="2.2"/>
<line x1="1359.9" y1="292.7" x2="1415.7" y2="292.7" stroke-width="2.8"/>
<ellipse cx="1387.4" cy="226.7" rx="14.2" ry="5.3" stroke-width="2.2"/>
</g>
<circle cx="1384" cy="258" r="2.3" fill="#ffff00"/>
<circle cx="1397.5" cy="255.5" r="2.3" fill="#ffff00"/>
<circle cx="1376" cy="264" r="2.3" fill="#ffff00"/>
<circle cx="1392" cy="262.5" r="2.3" fill="#ffff00"/>
<circle cx="1401" cy="267.5" r="2.3" fill="#ffff00"/>
<circle cx="1368" cy="280" r="2.3" fill="#ffff00"/>
<circle cx="1387" cy="281" r="2.3" fill="#ffff00"/>
<circle cx="1409" cy="284" r="2.3" fill="#ffff00"/>
<g transform="translate(1384,271) rotate(-15)">
<line x1="-4.35" y1="0" x2="4.35" y2="0" stroke="#f9c2c2" stroke-width="3.0" stroke-linecap="round"/>
<line x1="-3.4499999999999997" y1="0.36" x2="1.9499999999999997" y2="0.06" stroke="#c8902a" stroke-width="0.66"/>
<circle cx="2.7899999999999996" cy="0" r="1.38" fill="#777"/>
</g>
<g transform="translate(1377,280) rotate(-10)">
<line x1="-4.35" y1="0" x2="4.35" y2="0" stroke="#f9c2c2" stroke-width="3.0" stroke-linecap="round"/>
<line x1="-3.4499999999999997" y1="0.36" x2="1.9499999999999997" y2="0.06" stroke="#c8902a" stroke-width="0.66"/>
<circle cx="2.7899999999999996" cy="0" r="1.38" fill="#777"/>
</g>
<g transform="translate(1399,276) rotate(-10)">
<line x1="-4.35" y1="0" x2="4.35" y2="0" stroke="#f9c2c2" stroke-width="3.0" stroke-linecap="round"/>
<line x1="-3.4499999999999997" y1="0.36" x2="1.9499999999999997" y2="0.06" stroke="#c8902a" stroke-width="0.66"/>
<circle cx="2.7899999999999996" cy="0" r="1.38" fill="#777"/>
</g>
<g transform="translate(1370,287) rotate(-5)">
<line x1="-4.35" y1="0" x2="4.35" y2="0" stroke="#f9c2c2" stroke-width="3.0" stroke-linecap="round"/>
<line x1="-3.4499999999999997" y1="0.36" x2="1.9499999999999997" y2="0.06" stroke="#c8902a" stroke-width="0.66"/>
<circle cx="2.7899999999999996" cy="0" r="1.38" fill="#777"/>
</g>
<g transform="translate(1383,287) rotate(5)">
<line x1="-4.35" y1="0" x2="4.35" y2="0" stroke="#f9c2c2" stroke-width="3.0" stroke-linecap="round"/>
<line x1="-3.4499999999999997" y1="0.36" x2="1.9499999999999997" y2="0.06" stroke="#c8902a" stroke-width="0.66"/>
<circle cx="2.7899999999999996" cy="0" r="1.38" fill="#777"/>
</g>
<g transform="translate(1400,286) rotate(-10)">
<line x1="-4.35" y1="0" x2="4.35" y2="0" stroke="#f9c2c2" stroke-width="3.0" stroke-linecap="round"/>
<line x1="-3.4499999999999997" y1="0.36" x2="1.9499999999999997" y2="0.06" stroke="#c8902a" stroke-width="0.66"/>
<circle cx="2.7899999999999996" cy="0" r="1.38" fill="#777"/>
</g>
<path d="M1419,258.75 H1439 V255.5 L1446,262 L1439,268.5 V265.25 H1419 Z" fill="#000"/>
<g>
<path d="M1449.5,254.1 L1449.5,266.3 A40.5,28.5 0 0 0 1530.5,266.3 L1530.5,254.1 Z" fill="#dfe9f6" stroke="#000" stroke-width="1.3"/>
<ellipse cx="1490" cy="259.1" rx="39.7" ry="28.5" fill="#fff" stroke="#444" stroke-width="0.8" stroke-dasharray="1 1"/>
<ellipse cx="1490" cy="254.1" rx="40.5" ry="28.5" fill="#dfe9f6" stroke="#000" stroke-width="2.3"/>
<ellipse cx="1490.5" cy="257.1" rx="38.0" ry="25.0" fill="none" stroke="#666" stroke-width="0.7" stroke-dasharray="1 1"/>
<path d="M1479.04,241.53 C1478.22,242.42 1477.17,243.05 1476.18,243.54 C1475.18,244.03 1473.70,244.77 1473.08,244.48 C1472.45,244.20 1472.55,242.79 1472.43,241.84 C1472.31,240.88 1471.93,239.83 1472.38,238.77 C1472.84,237.70 1474.18,236.14 1475.17,235.47 C1476.15,234.80 1477.36,234.77 1478.27,234.76 C1479.18,234.75 1480.15,234.85 1480.62,235.42 C1481.09,236.00 1481.36,237.20 1481.09,238.22 C1480.83,239.24 1479.86,240.65 1479.04,241.53 Z" fill="#b4ad6c" stroke="#8fb3e3" stroke-width="0.9"/>
<path d="M1493.90,238.50 C1494.03,239.50 1494.17,241.29 1493.69,241.93 C1493.22,242.56 1491.80,242.38 1491.03,242.34 C1490.26,242.29 1489.78,242.02 1489.07,241.66 C1488.37,241.31 1487.13,241.01 1486.80,240.22 C1486.47,239.43 1486.81,237.92 1487.10,236.92 C1487.39,235.91 1487.87,234.73 1488.55,234.19 C1489.23,233.64 1490.44,233.36 1491.17,233.65 C1491.90,233.93 1492.47,235.09 1492.93,235.90 C1493.38,236.71 1493.77,237.50 1493.90,238.50 Z" fill="#b4ad6c" stroke="#8fb3e3" stroke-width="0.9"/>
<path d="M1511.01,239.95 C1511.29,240.53 1510.81,241.67 1510.29,242.36 C1509.77,243.06 1508.79,243.61 1507.88,244.11 C1506.96,244.62 1505.78,245.32 1504.79,245.39 C1503.80,245.46 1502.53,245.05 1501.95,244.53 C1501.37,244.00 1501.20,243.04 1501.33,242.24 C1501.46,241.45 1501.98,240.45 1502.73,239.77 C1503.49,239.09 1504.89,238.28 1505.88,238.14 C1506.86,237.99 1507.78,238.58 1508.63,238.88 C1509.49,239.18 1510.74,239.37 1511.01,239.95 Z" fill="#b4ad6c" stroke="#8fb3e3" stroke-width="0.9"/>
<path d="M1463.76,252.00 C1463.76,253.37 1463.57,255.13 1463.21,256.08 C1462.85,257.03 1462.14,257.60 1461.62,257.69 C1461.10,257.79 1460.50,257.28 1460.09,256.63 C1459.69,255.97 1459.32,254.82 1459.19,253.77 C1459.05,252.72 1459.13,251.37 1459.29,250.32 C1459.44,249.26 1459.72,248.14 1460.11,247.45 C1460.50,246.76 1461.10,246.11 1461.62,246.18 C1462.15,246.25 1462.88,246.90 1463.24,247.87 C1463.59,248.84 1463.77,250.63 1463.76,252.00 Z" fill="#b4ad6c" stroke="#8fb3e3" stroke-width="0.9"/>
<path d="M1477.51,252.90 C1477.60,253.71 1477.45,255.02 1477.00,255.60 C1476.55,256.19 1475.56,256.26 1474.82,256.41 C1474.08,256.55 1473.15,256.86 1472.56,256.49 C1471.97,256.12 1471.54,255.06 1471.27,254.22 C1471.00,253.37 1470.66,252.11 1470.95,251.44 C1471.24,250.78 1472.37,250.46 1473.00,250.22 C1473.63,249.97 1474.16,249.89 1474.73,249.98 C1475.30,250.07 1475.98,250.27 1476.44,250.76 C1476.90,251.24 1477.42,252.09 1477.51,252.90 Z" fill="#b4ad6c" stroke="#8fb3e3" stroke-width="0.9"/>
<path d="M1493.31,252.10 C1493.29,252.71 1492.49,253.33 1492.03,253.86 C1491.57,254.39 1491.08,255.21 1490.54,255.28 C1490.00,255.35 1489.24,254.67 1488.78,254.28 C1488.33,253.89 1487.96,253.43 1487.80,252.93 C1487.63,252.43 1487.66,251.86 1487.78,251.26 C1487.89,250.67 1487.99,249.77 1488.46,249.34 C1488.93,248.91 1489.96,248.55 1490.58,248.70 C1491.20,248.85 1491.70,249.66 1492.16,250.23 C1492.61,250.80 1493.33,251.49 1493.31,252.10 Z" fill="#b4ad6c" stroke="#8fb3e3" stroke-width="0.9"/>
<path d="M1505.07,256.27 C1504.93,256.99 1504.94,258.37 1504.27,258.63 C1503.60,258.89 1502.07,258.17 1501.06,257.81 C1500.06,257.44 1498.89,257.11 1498.24,256.46 C1497.60,255.81 1497.28,254.76 1497.20,253.91 C1497.12,253.07 1497.15,251.83 1497.76,251.39 C1498.38,250.95 1499.95,251.10 1500.91,251.27 C1501.86,251.44 1502.80,251.92 1503.50,252.43 C1504.20,252.93 1504.84,253.65 1505.10,254.29 C1505.36,254.93 1505.21,255.55 1505.07,256.27 Z" fill="#b4ad6c" stroke="#8fb3e3" stroke-width="0.9"/>
<path d="M1522.60,260.60 C1522.74,261.63 1523.63,263.35 1523.06,263.99 C1522.49,264.64 1520.47,264.27 1519.19,264.47 C1517.90,264.67 1516.41,265.56 1515.33,265.21 C1514.25,264.87 1512.94,263.39 1512.72,262.39 C1512.51,261.39 1513.51,260.17 1514.03,259.22 C1514.54,258.27 1514.94,257.18 1515.81,256.71 C1516.69,256.24 1518.19,256.19 1519.26,256.38 C1520.32,256.57 1521.64,257.13 1522.20,257.83 C1522.76,258.54 1522.45,259.57 1522.60,260.60 Z" fill="#b4ad6c" stroke="#8fb3e3" stroke-width="0.9"/>
<path d="M1490.47,262.20 C1490.45,262.80 1489.83,263.49 1489.39,263.95 C1488.94,264.41 1488.37,264.85 1487.79,264.97 C1487.20,265.09 1486.46,264.94 1485.88,264.66 C1485.29,264.39 1484.60,263.91 1484.28,263.30 C1483.96,262.69 1483.72,261.62 1483.96,260.99 C1484.20,260.35 1485.08,259.85 1485.73,259.48 C1486.39,259.12 1487.27,258.65 1487.90,258.80 C1488.53,258.94 1489.08,259.78 1489.51,260.35 C1489.93,260.92 1490.49,261.60 1490.47,262.20 Z" fill="#b4ad6c" stroke="#8fb3e3" stroke-width="0.9"/>
<path d="M1465.58,265.50 C1465.63,266.13 1465.52,267.06 1465.17,267.52 C1464.81,267.98 1463.99,268.20 1463.43,268.24 C1462.88,268.27 1462.34,268.01 1461.84,267.72 C1461.35,267.44 1460.73,267.07 1460.48,266.52 C1460.23,265.97 1460.13,265.00 1460.34,264.42 C1460.55,263.85 1461.21,263.30 1461.72,263.04 C1462.23,262.78 1462.89,262.76 1463.42,262.88 C1463.94,262.99 1464.51,263.32 1464.87,263.76 C1465.23,264.19 1465.53,264.87 1465.58,265.50 Z" fill="#b4ad6c" stroke="#8fb3e3" stroke-width="0.9"/>
<path d="M1481.12,271.80 C1481.25,272.74 1480.80,274.04 1480.13,274.91 C1479.46,275.78 1478.17,276.88 1477.10,277.00 C1476.03,277.12 1474.64,276.23 1473.70,275.62 C1472.77,275.01 1471.94,274.27 1471.48,273.35 C1471.02,272.42 1470.52,270.87 1470.95,270.08 C1471.39,269.28 1473.10,268.96 1474.08,268.58 C1475.07,268.21 1475.99,267.69 1476.86,267.81 C1477.74,267.93 1478.65,268.62 1479.36,269.28 C1480.07,269.95 1480.99,270.86 1481.12,271.80 Z" fill="#b4ad6c" stroke="#8fb3e3" stroke-width="0.9"/>
<path d="M1511.09,273.20 C1510.56,274.00 1509.18,274.44 1508.28,274.66 C1507.38,274.88 1506.62,274.71 1505.72,274.52 C1504.82,274.34 1503.35,274.27 1502.87,273.57 C1502.38,272.86 1502.56,271.29 1502.81,270.28 C1503.07,269.26 1503.66,268.09 1504.40,267.48 C1505.14,266.86 1506.26,266.70 1507.27,266.59 C1508.27,266.48 1509.72,266.27 1510.42,266.82 C1511.13,267.37 1511.39,268.85 1511.50,269.92 C1511.61,270.98 1511.63,272.41 1511.09,273.20 Z" fill="#b4ad6c" stroke="#8fb3e3" stroke-width="0.9"/>
<path d="M1496.77,275.84 C1496.91,276.45 1496.97,277.15 1496.62,277.77 C1496.28,278.39 1495.56,279.12 1494.72,279.55 C1493.88,279.99 1492.50,280.47 1491.60,280.37 C1490.71,280.27 1489.87,279.56 1489.36,278.97 C1488.86,278.38 1488.43,277.57 1488.57,276.84 C1488.70,276.11 1489.41,275.23 1490.17,274.60 C1490.93,273.98 1492.19,273.17 1493.13,273.09 C1494.07,273.01 1495.19,273.67 1495.80,274.13 C1496.40,274.59 1496.63,275.24 1496.77,275.84 Z" fill="#b4ad6c" stroke="#8fb3e3" stroke-width="0.9"/>
</g>
<path d="M1554,257.75 H1571 V254.5 L1578,261 L1571,267.5 V264.25 H1554 Z" fill="#000"/>
<g fill="none" stroke="#000" stroke-linejoin="round">
<path d="M1592.0,280.7 L1638.3,280.7 L1643.8,294.2 L1586.7,294.2 Z" fill="#e6e6e6" stroke="none"/>
<path d="M1600.6,227.9 L1604.6,243.4 L1604.6,248.4 L1586.7,294.2" stroke-width="2.2"/>
<path d="M1629.0,227.9 L1625.0,243.4 L1625.0,248.4 L1643.8,294.2" stroke-width="2.2"/>
<line x1="1586.2" y1="294.2" x2="1644.3" y2="294.2" stroke-width="2.8"/>
<ellipse cx="1614.8" cy="226.4" rx="14.2" ry="5.3" stroke-width="2.2"/>
</g>
<use href="#sprout" transform="translate(1602,290) scale(1)" fill="#f5a030" stroke="#f5a030"/>
<use href="#sprout" transform="translate(1611,287) scale(1)" fill="#2e8b2e" stroke="#2e8b2e"/>
<use href="#sprout" transform="translate(1619,288) scale(1.0)" fill="#2e8b2e" stroke="#2e8b2e"/>
<use href="#sprout" transform="translate(1628,289) scale(0.95)" fill="#f5a030" stroke="#f5a030"/>
<g filter="url(#bs)" fill="none" stroke="#000" stroke-width="2.2">
<path d="M1648,131 H1663 V260.5 H1647.7"/>
<path d="M1663,193 C1700,240 1700,380 1668,428"/>
</g>
<path d="M1661,436 L1664,421 L1674,428 Z" fill="#000"/>
<g filter="url(#dsh)" stroke="#d4d4d4" stroke-width="2.4" stroke-dasharray="16 6">
<line x1="1079" y1="323" x2="1686" y2="323"/>
<line x1="1079" y1="521" x2="1686" y2="521"/>
</g>
<text x="1137.8" y="390.7" font-size="26.5" font-weight="bold" font-style="normal" fill="#000" text-anchor="start" filter="url(#ts)" >T0</text>
<text x="1258" y="392.5" font-size="19" font-weight="bold" font-style="normal" fill="#000" text-anchor="middle" filter="url(#ts)" >TKC-G1</text>
<text x="1224.4" y="425.4" font-size="20.15" font-weight="bold" font-style="normal" fill="#000" text-anchor="middle" filter="url(#ts)" >Normal growing</text>
<text x="1224.4" y="449.2" font-size="20.15" font-weight="bold" font-style="normal" fill="#000" text-anchor="middle" filter="url(#ts)" >plants</text>
<text x="1220.7" y="473.3" font-size="20" font-weight="bold" font-style="normal" fill="#66cc00" text-anchor="middle" filter="url(#ts)" >IE (0.00%-3.85%)</text>
<text x="1564.7" y="393.6" font-size="20.2" font-weight="bold" font-style="normal" fill="#000" text-anchor="middle" filter="url(#ts)" >TKC-MC</text>
<text x="1543.6" y="421.4" font-size="20.15" font-weight="bold" font-style="normal" fill="#000" text-anchor="middle" filter="url(#ts)" >Normal growing</text>
<text x="1543.2" y="444.8" font-size="20.15" font-weight="bold" font-style="normal" fill="#000" text-anchor="middle" filter="url(#ts)" >plants</text>
<text x="1551.5" y="469.4" font-size="20.2" font-weight="bold" font-style="normal" fill="#66cc00" text-anchor="middle" filter="url(#ts)" >IE (11.11%-20.00%)</text>
<use href="#plant" transform="translate(1336.9,434.6) scale(1)" fill="#006a00" stroke="#e2efe4"/>
<use href="#plant" transform="translate(1368.4,428.7) scale(1)" fill="#ff9410" stroke="#ff9410"/>
<use href="#plant" transform="translate(1391,431.7) scale(1)" fill="#b5dc9c" stroke="#e6f2e8"/>
<use href="#plant" transform="translate(1413.7,434.6) scale(1)" fill="#ff9410" stroke="#ff9410"/>
<use href="#plant" transform="translate(1431.3,430.2) scale(0.95)" fill="#006a00" stroke="#e2efe4"/>
<use href="#plant" transform="translate(1333.3,467.5) scale(1)" fill="#bfe2a8" stroke="#eaf3ec"/>
<use href="#plant" transform="translate(1361.8,469) scale(1)" fill="#ff9410" stroke="#ff9410"/>
<use href="#plant" transform="translate(1396.9,469) scale(1)" fill="#ff9410" stroke="#ff9410"/>
<use href="#plant" transform="translate(1406.4,471.9) scale(0.97)" fill="#b5dc9c" stroke="#e6f2e8"/>
<use href="#plant" transform="translate(1429.8,469) scale(1)" fill="#ff9410" stroke="#ff9410"/>
<text x="1171" y="612.9" font-size="26.5" font-weight="bold" font-style="normal" fill="#000" text-anchor="start" filter="url(#ts)" >T1</text>
<g stroke="#000" stroke-width="2.6" fill="none">
<path d="M1411.8,538.6 L1410.1,592.5 L1362,640"/>
<path d="M1410.1,592.5 L1463,638"/>
<path d="M1355,655.3 V684 M1270.3,684 H1452.3 M1270.3,682.7 V700 M1452.3,682.7 V700"/>
<path d="M1256.6,783 V800 M1503.5,783 V800"/>
</g>
<path d="M1356.0,647.0 L1361.4,634.0 L1369.1,641.8 Z" fill="#000"/>
<path d="M1469.8,644.7 L1456.4,640.3 L1463.6,632.0 Z" fill="#000"/>
<path d="M1270.3,710.6 L1264.8,698.6 L1275.8,698.6 Z" fill="#000"/>
<path d="M1452.3,710.6 L1446.8,698.6 L1457.8,698.6 Z" fill="#000"/>
<path d="M1256.6,811.0 L1251.1,799.0 L1262.1,799.0 Z" fill="#000"/>
<path d="M1503.5,811.0 L1498.0,799.0 L1509.0,799.0 Z" fill="#000"/>
<g stroke="#000" stroke-width="1.8" fill="none"><circle cx="1429" cy="575.3" r="8.4"/><path d="M1423.1,569.4 L1434.9,581.2 M1434.9,569.4 L1423.1,581.2"/></g>
<g><ellipse cx="1329.6" cy="619.3" rx="17.8" ry="16.2" fill="#ffff00" stroke="#000" stroke-width="1.6"/><circle cx="1323.5" cy="614.1" r="1.9" fill="none" stroke="#000" stroke-width="1.2"/><circle cx="1335.6" cy="614.1" r="1.9" fill="none" stroke="#000" stroke-width="1.2"/><path d="M1319.6,626.8 Q1329.6,632 1339.7,626.8" fill="none" stroke="#000" stroke-width="1.6"/></g>
<g><path d="M1485.3,627 A17.3,17.3 0 1 1 1515.7,627 L1515.7,630.8 L1510.2,630.8 L1510.2,639.3 L1490.8,639.3 L1490.8,630.8 L1485.3,630.8 Z" fill="none" stroke="#000" stroke-width="3.3" stroke-linejoin="round"/><circle cx="1493.9" cy="619.8" r="4.7" fill="#000"/><circle cx="1507.2" cy="619.8" r="4.7" fill="#000"/><path d="M1500.5,624.5 L1502.6,628.3 L1498.4,628.3 Z" fill="#000"/><path d="M1497.6,632 V638 M1503.4,632 V638" stroke="#000" stroke-width="2.2"/></g>
<rect x="1464.5" y="649.5" width="195" height="50" fill="none" stroke="#808080" stroke-width="2.6" stroke-dasharray="7.5 4.5"/>
<text x="1561.5" y="676" font-size="19.2" font-weight="bold" font-style="normal" fill="#000" text-anchor="middle" filter="url(#ts)" >Transgenic seeds</text>
<text x="1234.6" y="736.7" font-size="19.6" font-weight="bold" font-style="normal" fill="#000" text-anchor="middle" filter="url(#ts)" letter-spacing="0.4">Transgene-free</text>
<text x="1234.6" y="761.2" font-size="19.6" font-weight="bold" font-style="normal" fill="#000" text-anchor="middle" filter="url(#ts)" >heterozygous seeds</text>
<text x="1235" y="786" font-size="19" font-weight="bold" font-style="italic" fill="#66cc00" text-anchor="middle" filter="url(#ts)" >Aa</text>
<text x="1482.2" y="736.7" font-size="19.6" font-weight="bold" font-style="normal" fill="#000" text-anchor="middle" filter="url(#ts)" letter-spacing="0.4">Transgene-free</text>
<text x="1482.2" y="761.2" font-size="19.6" font-weight="bold" font-style="normal" fill="#000" text-anchor="middle" filter="url(#ts)" >homozygous seeds</text>
<text x="1483.3" y="786" font-size="19" font-weight="bold" font-style="italic" fill="#ff9a00" text-anchor="middle" filter="url(#ts)" >aa</text>
<text x="1234" y="835.2" font-size="20.3" font-weight="bold" font-style="normal" fill="#66cc00" text-anchor="middle" filter="url(#ts)" >Preservation of mutation</text>
<text x="1481.8" y="835.2" font-size="20" font-weight="bold" font-style="normal" fill="#ff9a00" text-anchor="middle" filter="url(#ts)" >Research or breeding</text>
</svg></body></html>
